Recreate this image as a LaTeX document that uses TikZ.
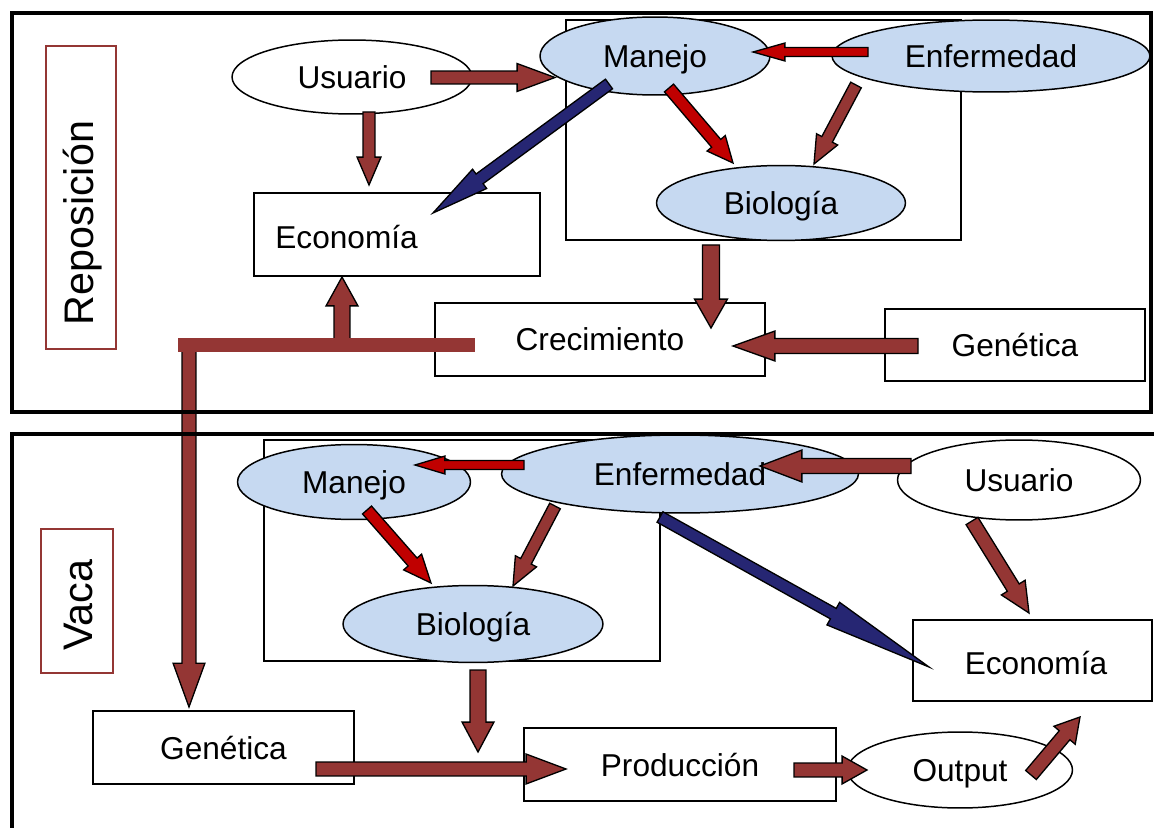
\documentclass[tikz,border=0pt]{standalone}
\usepackage{fontspec}
\setmainfont{Liberation Sans}
\usetikzlibrary{shapes.geometric,calc}

\definecolor{brn}{RGB}{148,54,52}
\definecolor{rd}{RGB}{192,0,0}
\definecolor{nv}{RGB}{38,38,115}
\definecolor{lb}{RGB}{198,217,241}

\tikzset{
  every node/.style={font=\fontsize{18}{22}\selectfont, inner sep=0pt},
  frame/.style={draw=black, line width=2.8pt},
  box/.style={draw=black, line width=0.85pt, rectangle, fill=white, text depth=0pt},
  inbox/.style={draw=black, line width=0.85pt, rectangle},
  ovl/.style={draw=black, line width=0.85pt, ellipse, fill=white, text depth=0pt},
  bovl/.style={ovl, fill=lb},
  sidebox/.style={draw=brn, line width=0.7pt, rectangle},
  sidelabel/.style={font=\fontsize{23.5}{28}\selectfont, rotate=90},
  barrowstyle/.style={draw=black, line width=0.75pt, line join=miter}
}

% \barrow[colour]{from}{to}{half shaft}{half head}{head length}  (px)
\newcommand\barrow[6][brn]{%
  \coordinate (bah) at ($(#3)!#6*0.567pt!(#2)$);
  \draw[barrowstyle, fill=#1]
    ($(#2)!#4*0.567pt!90:(#3)$) -- ($(bah)!#4*0.567pt!90:(#3)$) --
    ($(bah)!#5*0.567pt!90:(#3)$) -- (#3) --
    ($(bah)!#5*0.567pt!-90:(#3)$) -- ($(bah)!#4*0.567pt!-90:(#3)$) --
    ($(#2)!#4*0.567pt!-90:(#3)$) -- cycle;
}

\begin{document}
\begin{tikzpicture}[x=0.02cm, y=-0.02cm]
\useasboundingbox (0,0) rectangle (1154,828);

% ---------- top section (Reposición) ----------
\node[sidebox, minimum width=1.40cm, minimum height=6.06cm] (repbox) at (81,197.5) {};
\node[sidelabel] (replab) at (83,223) {Reposición};

\node[inbox, minimum width=7.9cm, minimum height=4.4cm] (tin) at (763.5,130) {};
\node[ovl, minimum width=4.8cm, minimum height=1.48cm] (tusu) at (352,77) {Usuario};
\node[bovl, minimum width=4.6cm, minimum height=1.56cm] (tman) at (655,56) {Manejo};
\node[bovl, minimum width=6.36cm, minimum height=1.44cm] (tenf) at (991,56) {Enfermedad};
\node[bovl, minimum width=4.98cm, minimum height=1.5cm] (tbio) at (781,203) {Biología};
\node[box, minimum width=5.72cm, minimum height=1.66cm] (teco) at (397,234.5) {};
\node[anchor=west, text depth=0pt] (tecolab) at (275,237) {Economía};
\node[box, minimum width=6.6cm, minimum height=1.46cm] (tcre) at (600,339.5) {Crecimiento};
\node[box, minimum width=5.2cm, minimum height=1.44cm] (tgen) at (1015,345) {Genética};

% ---------- bottom section (Vaca) ----------
\node[sidebox, minimum width=1.44cm, minimum height=2.88cm] (vacbox) at (77,601) {};
\node[sidelabel] (vaclab) at (78,605) {Vaca};

\node[inbox, minimum width=7.92cm, minimum height=4.42cm] (bin) at (462,550.5) {};
\node[bovl, minimum width=4.66cm, minimum height=1.5cm] (bman) at (354,482) {Manejo};
\node[bovl, minimum width=7.14cm, minimum height=1.56cm] (benf) at (680,474) {Enfermedad};
\node[ovl, minimum width=4.86cm, minimum height=1.6cm] (busu) at (1019,480) {Usuario};
\node[bovl, minimum width=5.2cm, minimum height=1.54cm] (bbio) at (473,624) {Biología};
\node[box, minimum width=4.78cm, minimum height=1.62cm] (beco) at (1032.5,660.5) {};
\node[text depth=0pt] (becolab) at (1036,663) {Economía};
\node[box, minimum width=5.22cm, minimum height=1.46cm] (bgen) at (223.5,747.5) {Genética};
\node[box, minimum width=6.24cm, minimum height=1.46cm] (bpro) at (680,764.5) {Producción};
\node[ovl, minimum width=4.5cm, minimum height=1.52cm] (bout) at (960,770) {Output};

% ---------- arrow end points ----------
\coordinate (a1s) at (431,77.5);   \coordinate (a1e) at (555,77.5);
\coordinate (a2s) at (868,52);     \coordinate (a2e) at (753,52);
\coordinate (a3s) at (609,84);     \coordinate (a3e) at (433,213);
\coordinate (a4s) at (669,88);     \coordinate (a4e) at (733,163);
\coordinate (a5s) at (856,85);     \coordinate (a5e) at (814,164);
\coordinate (a6s) at (369,112);    \coordinate (a6e) at (369,185);
\coordinate (a7s) at (711,245);    \coordinate (a7e) at (711,328);
\coordinate (a8s) at (918,346);    \coordinate (a8e) at (733,346);
\coordinate (a9s) at (342,342);    \coordinate (a9e) at (342,277);
\coordinate (bvs) at (189,345);    \coordinate (bve) at (189,707);
\coordinate (hbl) at (178,338);    \coordinate (hbr) at (475,352);

\coordinate (b1s) at (524,465);    \coordinate (b1e) at (415,465);
\coordinate (b2s) at (911,466);    \coordinate (b2e) at (760,466);
\coordinate (b3s) at (367,510);    \coordinate (b3e) at (431,583);
\coordinate (b4s) at (555,506);    \coordinate (b4e) at (513,586);
\coordinate (b5s) at (660,517);    \coordinate (b5e) at (929,667);
\coordinate (b6s) at (972,521);    \coordinate (b6e) at (1029,613);
\coordinate (b7s) at (478,670);    \coordinate (b7e) at (478,752);
\coordinate (b8s) at (316,769);    \coordinate (b8e) at (566,769);
\coordinate (b9s) at (794,770);    \coordinate (b9e) at (867,770);
\coordinate (b10s) at (1031,775);  \coordinate (b10e) at (1080,717);

% ---------- top arrows ----------
\barrow{a1s}{a1e}{6.5}{14}{38}
\barrow[rd]{a2s}{a2e}{4.5}{9}{32}
\barrow[nv]{a3s}{a3e}{6}{12}{58}
\barrow[rd]{a4s}{a4e}{6}{12}{26}
\barrow{a5s}{a5e}{6}{12}{28}
\barrow{a6s}{a6e}{6}{12}{28}
\barrow{a7s}{a7e}{8.5}{16.5}{29}
\barrow{a8s}{a8e}{7.5}{15}{42}

% long L-shaped connector from Crecimiento
\barrow{bvs}{bve}{7}{16}{44}
\barrow{a9s}{a9e}{8}{16}{29}
\fill[brn] (hbl) rectangle (hbr);

% ---------- bottom arrows ----------
\barrow[rd]{b1s}{b1e}{4.5}{9}{30}
\barrow{b2s}{b2e}{7.5}{16}{42}
\barrow[rd]{b3s}{b3e}{6}{12}{28}
\barrow{b4s}{b4e}{6}{12}{28}
\barrow[nv]{b5s}{b5e}{6}{13}{110}
\barrow{b6s}{b6e}{7}{14}{30}
\barrow{b7s}{b7e}{8}{16}{30}
\barrow{b8s}{b8e}{7}{15}{40}
\barrow{b9s}{b9e}{7}{14}{25}
\barrow{b10s}{b10e}{7}{14}{24}

% ---------- frames ----------
\draw[frame] (12,13) rectangle (1151,412);
\draw[frame] (1160,434) -- (12,434) -- (12,835);
\end{tikzpicture}
\end{document}
